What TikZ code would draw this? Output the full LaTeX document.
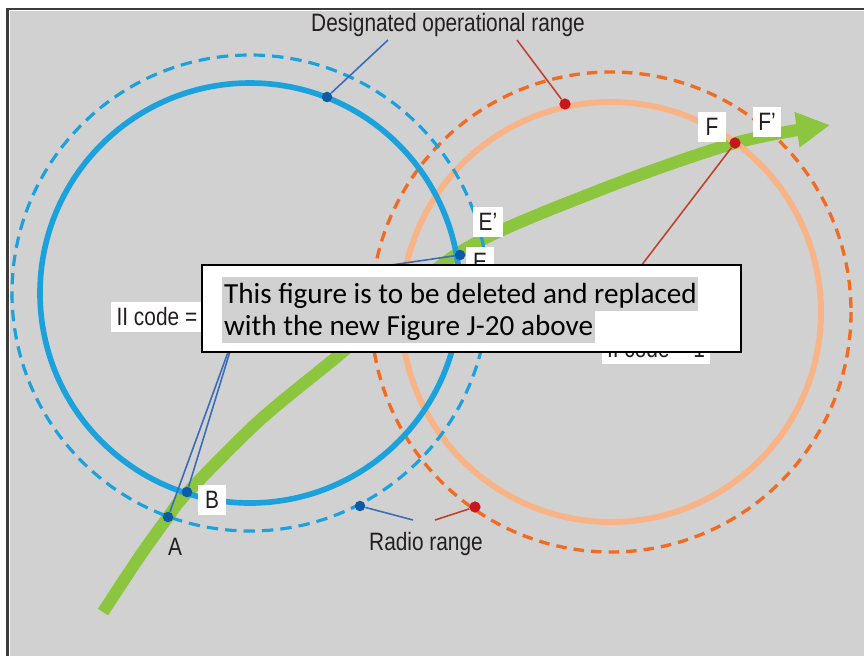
\documentclass[tikz,border=0pt]{standalone}
\usepackage{fontspec}
\setmainfont{Liberation Sans}[FakeStretch=0.83]
\newfontfamily\notefont{Carlito}
\usepackage{tikz}
\usetikzlibrary{arrows.meta}
\definecolor{bggray}{HTML}{D1D1D1}
\definecolor{framegray}{HTML}{3C3C3C}
\definecolor{rangeblue}{HTML}{1BA1DC}
\definecolor{rangeorange}{HTML}{F26B22}
\definecolor{lightorange}{HTML}{F8B486}
\definecolor{trackgreen}{HTML}{8CC63F}
\definecolor{dotblue}{HTML}{0B5BA8}
\definecolor{lineblue}{HTML}{3B6CB7}
\definecolor{dotred}{HTML}{C8161E}
\definecolor{linered}{HTML}{C0402E}
\definecolor{textgray}{HTML}{231F20}
\tikzstyle{bdot} = [circle, fill=dotblue, inner sep=0pt, minimum size=6pt]
\tikzstyle{rdot} = [circle, fill=dotred, inner sep=0pt, minimum size=6.4pt]
\tikzstyle{bthin} = [lineblue, line width=0.9pt]
\tikzstyle{rthin} = [linered, line width=0.9pt]
\tikzstyle{plain} = [text=textgray, font=\fontsize{14.3}{16}\selectfont, inner sep=0pt]
\tikzstyle{tag} = [plain, fill=white, inner xsep=3pt, inner ysep=0pt, minimum width=16pt, minimum height=17.5pt]
\tikzstyle{hl} = [fill=bggray, inner xsep=1pt, inner ysep=0pt, text height=15pt, text depth=4.5pt, anchor=base west, font=\notefont\fontsize{16.6}{18}\selectfont]

\begin{document}
\begin{tikzpicture}[x=0.02cm, y=-0.02cm]
    \useasboundingbox (0,0) rectangle (864,656);
    \fill[white] (0,0) rectangle (864,656);
    \fill[bggray] (10,11) rectangle (864,656);
    \draw[framegray, line width=1.2pt] (7.5,656) |- (864,9);

    \coordinate (BlueC) at (250,293);
    \coordinate (OrangeC) at (611,312);

    \draw[trackgreen, line width=6.9pt, -{Triangle[length=19pt, width=19pt]}] plot[smooth] coordinates {(103,612) (140,556) (168,517) (187,493) (260,420) (345,350) (460,252) (600,190) (735,143) (830,125)};

    \draw[lightorange, line width=3.4pt] (OrangeC) circle[radius=210];
    \draw[rangeorange, line width=1.9pt, dash pattern=on 6pt off 4pt] (OrangeC) circle[radius=240];
    \draw[rangeblue, line width=1.8pt, dash pattern=on 6.5pt off 4pt] (BlueC) circle[radius=238];
    \draw[rangeblue, line width=3.2pt] (BlueC) circle[radius=210];

    \coordinate (DesigL) at (388,40);
    \coordinate (DesigR) at (517,40);
    \coordinate (RadioL) at (413,520);
    \coordinate (RadioR) at (435,520);
    \coordinate (CodeLLow) at (239,322);
    \coordinate (CodeLHigh) at (240,287);
    \coordinate (CodeRTop) at (628,283);

    \node (DotTop) [bdot] at (327,97) {};
    \node (DotTopR) [rdot] at (565,104) {};
    \node (DotA) [bdot] at (168,517) {};
    \node (DotB) [bdot] at (187,492) {};
    \node (DotE) [bdot] at (460,255) {};
    \node (DotF) [rdot] at (735,143) {};
    \node (DotRadio) [bdot] at (360,506) {};
    \node (DotRadioR) [rdot] at (475,507) {};

    \draw[bthin] (DesigL) -- (DotTop);
    \draw[rthin] (DesigR) -- (DotTopR);
    \draw[bthin] (RadioL) -- (DotRadio);
    \draw[rthin] (RadioR) -- (DotRadioR);
    \draw[bthin] (CodeLLow) -- (DotA);
    \draw[bthin] (CodeLLow) -- (DotB);
    \draw[bthin] (CodeLHigh) -- (DotE);
    \draw[rthin] (CodeRTop) -- (DotF);

    \node (Desig) [plain] at (448,25) {Designated operational range};
    \node (Radio) [plain] at (426,544) {Radio range};
    \node (LabA) [plain] at (175,547) {A};
    \node (LabB) [tag] at (212,500) {B};
    \node (LabE) [tag] at (480,262) {E};
    \node (LabEp) [tag] at (488,222) {E’};
    \node (LabF) [tag] at (712,127) {F};
    \node (LabFp) [tag] at (767,122) {F’};
    \node (CodeL) [tag, anchor=west] at (111,317) {II code =};
    \node (CodeR) [tag] at (656,349) {II code = 1};

    \node (Note) [draw=black, fill=white, line width=1.1pt, minimum width=10.78cm, minimum height=1.74cm, anchor=north west, inner sep=0pt] at (201,264) {};
    \node (HlOne) [hl] at (222,303) {This figure is to be deleted and replaced\hspace{4pt}};
    \node (HlTwo) [hl] at (222,335) {with the new Figure J-20 above};
\end{tikzpicture}
\end{document}
